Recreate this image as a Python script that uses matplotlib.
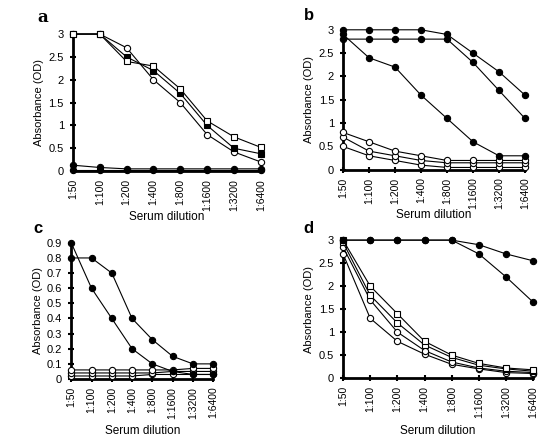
import matplotlib
matplotlib.use("Agg")
import matplotlib.pyplot as plt

plt.rcParams["font.family"] = ["Liberation Sans", "DejaVu Sans"]

dilutions = ["1:50", "1:100", "1:200", "1:400", "1:800", "1:1600", "1:3200", "1:6400"]

# panel a
a_open_sq = [3.0, 3.0, 2.4, 2.3, 1.8, 1.1, 0.75, 0.52]
a_fill_sq = [3.0, 3.0, 2.5, 2.2, 1.7, 1.0, 0.5, 0.38]
a_open_ci = [3.0, 3.0, 2.7, 2.0, 1.5, 0.8, 0.42, 0.2]
a_fill_ci1 = [0.13, 0.08, 0.05, 0.05, 0.05, 0.05, 0.05, 0.05]
a_fill_ci2 = [0.02, 0.02, 0.02, 0.02, 0.02, 0.02, 0.02, 0.02]

# panel b
b_fill1 = [3.0, 3.0, 3.0, 3.0, 2.9, 2.5, 2.1, 1.6]
b_fill2 = [2.8, 2.8, 2.8, 2.8, 2.8, 2.3, 1.7, 1.1]
b_fill3 = [2.9, 2.4, 2.2, 1.6, 1.1, 0.6, 0.3, 0.3]
b_open1 = [0.8, 0.6, 0.4, 0.3, 0.2, 0.2, 0.2, 0.2]
b_open2 = [0.7, 0.4, 0.3, 0.2, 0.15, 0.15, 0.15, 0.15]
b_open3 = [0.5, 0.3, 0.2, 0.1, 0.05, 0.05, 0.05, 0.05]

# panel c
c_fill1 = [0.9, 0.6, 0.4, 0.2, 0.1, 0.05, 0.03, 0.03]
c_fill2 = [0.8, 0.8, 0.7, 0.4, 0.26, 0.15, 0.1, 0.1]
c_open1 = [0.06, 0.06, 0.06, 0.06, 0.06, 0.06, 0.07, 0.07]
c_open2 = [0.04, 0.04, 0.04, 0.04, 0.04, 0.05, 0.05, 0.05]
c_open3 = [0.02, 0.02, 0.02, 0.02, 0.03, 0.03, 0.03, 0.03]

# panel d
d_fill1 = [3.0, 3.0, 3.0, 3.0, 3.0, 2.9, 2.7, 2.55]
d_fill2 = [3.0, 3.0, 3.0, 3.0, 3.0, 2.7, 2.2, 1.65]
d_open_sq1 = [3.0, 2.0, 1.4, 0.8, 0.5, 0.32, 0.22, 0.18]
d_open_sq2 = [2.95, 1.8, 1.2, 0.72, 0.45, 0.28, 0.2, 0.15]
d_open_ci1 = [2.85, 1.7, 1.0, 0.6, 0.35, 0.22, 0.15, 0.12]
d_open_ci2 = [2.7, 1.3, 0.8, 0.52, 0.3, 0.2, 0.12, 0.1]

x = list(range(len(dilutions)))


def series(ax, y, marker, filled):
    ax.plot(x, y, color="black", lw=0.8, marker=marker, ms=4.5,
            mfc="black" if filled else "white", mec="black", mew=0.8,
            clip_on=False, zorder=3)


def style(ax, ymax, yticks, yticklabels, xpad):
    ax.set_xlim(0, 7)
    ax.set_ylim(0, ymax)
    for s in ["top", "right"]:
        ax.spines[s].set_visible(False)
    for s in ["left", "bottom"]:
        ax.spines[s].set_linewidth(2)
    ax.set_xticks(x)
    ax.set_xticklabels(dilutions, rotation=90, fontsize=7.5)
    ax.set_yticks(yticks)
    ax.set_yticklabels(yticklabels, fontsize=8)
    ax.tick_params(direction="inout", length=5, width=1.5)
    ax.tick_params(axis="y", pad=4)
    ax.tick_params(axis="x", pad=3)
    ax.set_ylabel("Absorbance (OD)", fontsize=8, labelpad=3)
    ax.set_xlabel("Serum dilution", fontsize=8.5, labelpad=xpad)


fig = plt.figure(figsize=(5.48, 4.48), dpi=100)

ax_a = fig.add_axes([0.133, 0.618, 0.343, 0.306])
series(ax_a, a_fill_ci2, "o", True)
series(ax_a, a_fill_ci1, "o", True)
series(ax_a, a_open_ci, "o", False)
series(ax_a, a_fill_sq, "s", True)
series(ax_a, a_open_sq, "s", False)
style(ax_a, 3, [0, 0.5, 1, 1.5, 2, 2.5, 3], ["0", "0.5", "1", "1.5", "2", "2.5", "3"], 0)

ax_b = fig.add_axes([0.626, 0.621, 0.332, 0.3125])
for y in [b_open3, b_open2, b_open1]:
    series(ax_b, y, "o", False)
for y in [b_fill3, b_fill2, b_fill1]:
    series(ax_b, y, "o", True)
style(ax_b, 3, [0, 0.5, 1, 1.5, 2, 2.5, 3], ["0", "0.5", "1", "1.5", "2", "2.5", "3"], 0)

ax_c = fig.add_axes([0.130, 0.154, 0.259, 0.304])
for y in [c_open3, c_open2, c_open1]:
    series(ax_c, y, "o", False)
for y in [c_fill1, c_fill2]:
    series(ax_c, y, "o", True)
cticks = [0, 0.1, 0.2, 0.3, 0.4, 0.5, 0.6, 0.7, 0.8, 0.9]
style(ax_c, 0.9, cticks, ["0"] + [f"{t:.1f}" for t in cticks[1:]], 5)

ax_d = fig.add_axes([0.626, 0.156, 0.347, 0.308])
series(ax_d, d_open_ci2, "o", False)
series(ax_d, d_open_ci1, "o", False)
series(ax_d, d_open_sq2, "s", False)
series(ax_d, d_open_sq1, "s", False)
series(ax_d, d_fill2, "o", True)
series(ax_d, d_fill1, "o", True)
style(ax_d, 3, [0, 0.5, 1, 1.5, 2, 2.5, 3], ["0", "0.5", "1", "1.5", "2", "2.5", "3"], 5)

fig.text(37 / 548, 1 - 17 / 448, "a", fontsize=12, fontweight="bold", family="DejaVu Serif", va="center")
fig.text(304 / 548, 1 - 15 / 448, "b", fontsize=12, fontweight="bold", va="center")
fig.text(33 / 548, 1 - 228 / 448, "c", fontsize=12, fontweight="bold", va="center")
fig.text(303 / 548, 1 - 228 / 448, "d", fontsize=12, fontweight="bold", va="center")

fig.savefig("out.png", dpi=100)
